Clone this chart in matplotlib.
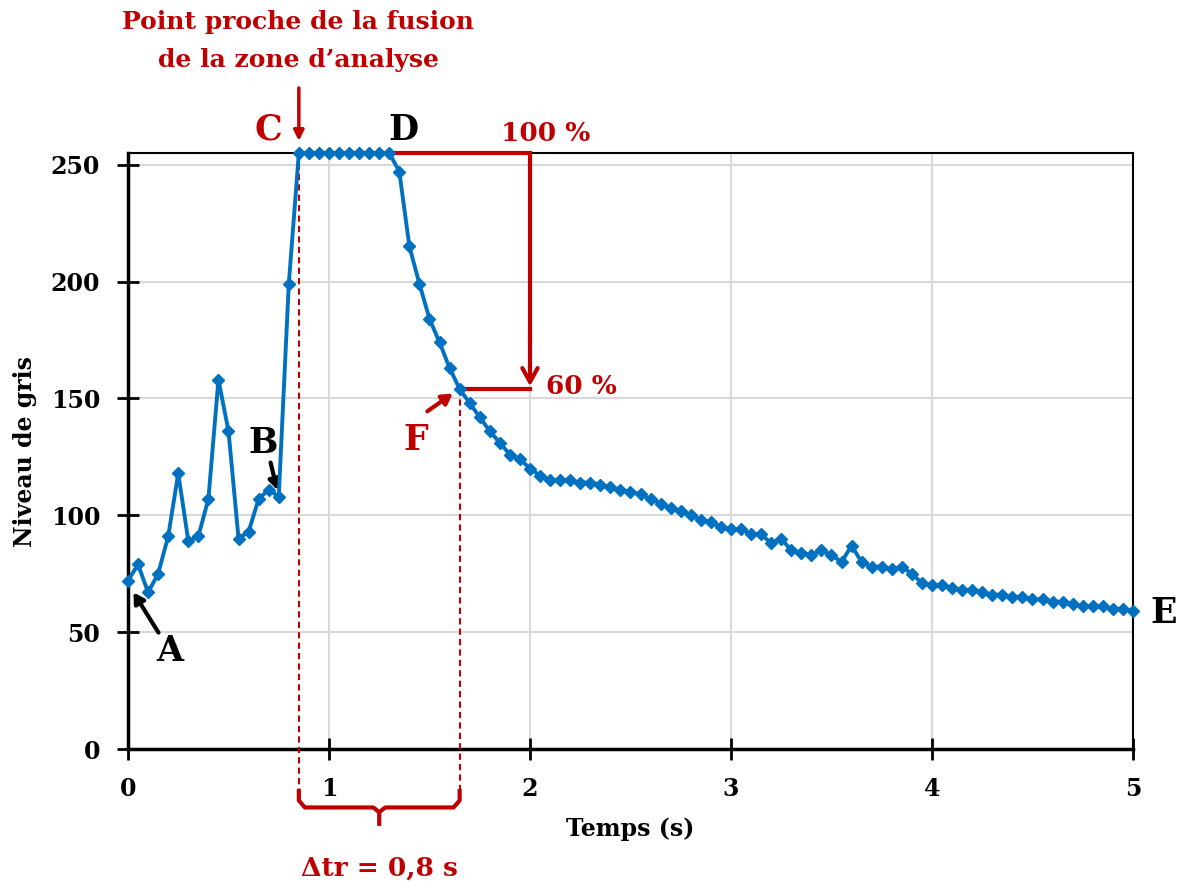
import numpy as np
import matplotlib.pyplot as plt

# Niveau de gris mesuré, un point toutes les 0,05 s
temps = np.linspace(0, 5, 101)
niveau = [72, 79, 67, 75, 91, 118, 89, 91, 107, 158, 136, 90, 93, 107, 111, 108, 199,
          255, 255, 255, 255, 255, 255, 255, 255, 255, 255,
          247, 215, 199, 184, 174, 163, 154, 148, 142, 136, 131, 126, 124, 120,
          117, 115, 115, 115, 114, 114, 113, 112, 111, 110, 109, 107, 105, 103, 102, 100,
          98, 97, 95, 94, 94, 92, 92, 88, 90, 85, 84, 83, 85, 83, 80, 87, 80, 78, 78, 77,
          78, 75, 71, 70, 70, 69, 68, 68, 67, 66, 66, 65, 65, 64, 64, 63, 63, 62, 61, 61,
          61, 60, 60, 59]
x_ticks = [0, 1, 2, 3, 4, 5]
y_ticks = [0, 50, 100, 150, 200, 250]

t_C, t_D, t_F = 0.85, 1.30, 1.65
v_max, v_F = 255, 154

rouge = '#C00000'
bleu = '#0070C0'
plt.rcParams['font.family'] = ['DejaVu Serif']
plt.rcParams['font.weight'] = 'bold'

fig = plt.figure(figsize=(11.83, 8.88), dpi=100)
ax = fig.add_axes([0.1082, 0.1565, 0.8495, 0.6712])

ax.plot(temps, niveau, color=bleu, lw=2.8, marker='D', ms=6.5, zorder=5, clip_on=False)

ax.set_xlim(0, 5)
ax.set_ylim(0, 255)
ax.set_xticks(x_ticks)
ax.set_yticks(y_ticks)
ax.grid(True, color='#D9D9D9', lw=1.5)
ax.set_axisbelow(True)
for s in ax.spines.values():
    s.set_color('black')
    s.set_linewidth(1.5)
ax.spines['left'].set_linewidth(2.5)
ax.spines['bottom'].set_linewidth(2.5)
ax.tick_params(direction='inout', length=16, width=2, labelsize=17, pad=12)
for lab in ax.get_xticklabels() + ax.get_yticklabels():
    lab.set_fontweight('bold')
ax.set_xlabel('Temps (s)', fontsize=17, fontweight='bold', labelpad=12)
ax.set_ylabel('Niveau de gris', fontsize=17, fontweight='bold', labelpad=10)

# lignes pointillées verticales C et F
for t, v in [(t_C, v_max), (t_F, v_F)]:
    ax.plot([t, t], [v, -18], color=rouge, lw=1.5, ls=(0, (3, 2)), clip_on=False, zorder=4)

# accolade Δtr
t_mid = (t_C + t_F) / 2
ax.plot([t_C, t_C, t_C + 0.03, t_mid - 0.03, t_mid, t_mid],
        [-18, -22, -25, -25, -27, -32], color=rouge, lw=3, clip_on=False)
ax.plot([t_F, t_F, t_F - 0.03, t_mid + 0.03, t_mid],
        [-18, -22, -25, -25, -27], color=rouge, lw=3, clip_on=False)
ax.text(t_mid, -51, 'Δtr = 0,8 s', color=rouge, fontsize=19, fontweight='bold',
        ha='center', va='center')

# 100 % -> 60 %
ax.plot([t_D + 0.02, 2.0, 2.0], [v_max, v_max, v_F + 20], color=rouge, lw=3,
        clip_on=False, zorder=4, solid_joinstyle='miter')
ax.annotate('', xy=(2.0, v_F), xytext=(2.0, v_F + 25),
            arrowprops=dict(arrowstyle='->,head_length=1.0,head_width=0.55', color=rouge, lw=3))
ax.plot([t_F, 2.0], [v_F, v_F], color=rouge, lw=3, zorder=4)
ax.text(2.08, 258, '100 %', color=rouge, fontsize=19, fontweight='bold', ha='center', va='bottom')
ax.text(2.08, 155, '60 %', color=rouge, fontsize=19, fontweight='bold', ha='left', va='center')

# lettres
ax.text(0.70, 265, 'C', color=rouge, fontsize=25, fontweight='bold', ha='center', va='center')
ax.text(1.37, 265, 'D', color='black', fontsize=25, fontweight='bold', ha='center', va='center')
ax.text(1.43, 132, 'F', color=rouge, fontsize=25, fontweight='bold', ha='center', va='center')
ax.text(0.21, 42, 'A', color='black', fontsize=25, fontweight='bold', ha='center', va='center')
ax.text(0.67, 131, 'B', color='black', fontsize=25, fontweight='bold', ha='center', va='center')
ax.text(5.085, 58, 'E', color='black', fontsize=25, fontweight='bold', ha='left', va='center')

ax.annotate('', xy=(1.627, 152.8), xytext=(1.478, 143.8),
            arrowprops=dict(arrowstyle='-|>,head_length=0.6,head_width=0.35', color=rouge, lw=3))
ax.annotate('', xy=(0.02, 68), xytext=(0.159, 48.8),
            arrowprops=dict(arrowstyle='-|>,head_length=0.6,head_width=0.35', color='black', lw=3))
ax.annotate('', xy=(0.746, 109.6), xytext=(0.706, 123.7),
            arrowprops=dict(arrowstyle='-|>,head_length=0.6,head_width=0.35', color='black', lw=3))

# note du point de fusion
ax.annotate('', xy=(t_C, 259), xytext=(t_C, 284),
            arrowprops=dict(arrowstyle='-|>,head_length=0.6,head_width=0.3', color=rouge, lw=2.5),
            annotation_clip=False)
fig.text(0.252, 1 - 22 / 888, 'Point proche de la fusion', color=rouge,
         fontsize=18, fontweight='bold', ha='center', va='center')
fig.text(0.252, 1 - 60 / 888, 'de la zone d\u2019analyse', color=rouge,
         fontsize=18, fontweight='bold', ha='center', va='center')

fig.savefig('out.png', dpi=100)
